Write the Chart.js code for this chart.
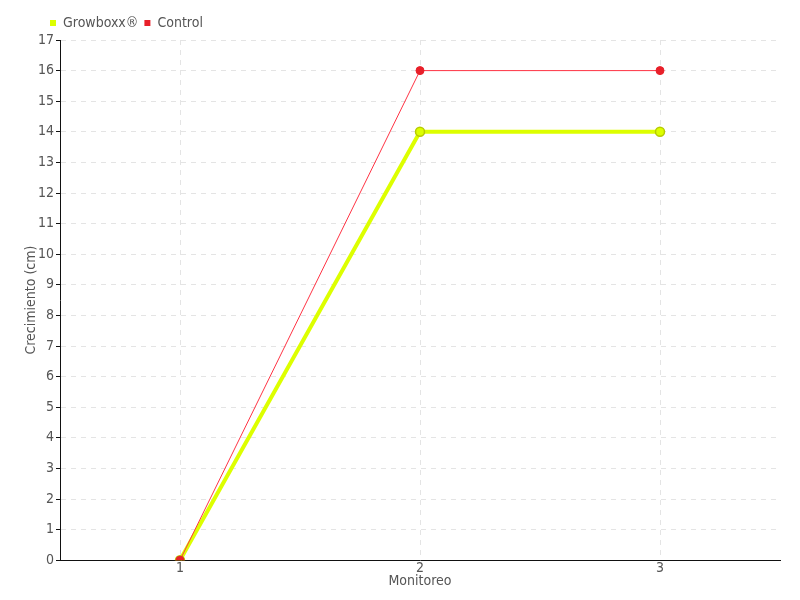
<!DOCTYPE html>
<html>
<head>
<meta charset="utf-8">
<script src="https://cdn.jsdelivr.net/npm/chart.js@4"></script>
<style>
  html, body { margin: 0; padding: 0; background: #fff; }
  #wrap { width: 800px; height: 600px; }
</style>
</head>
<body>
<div id="wrap"><canvas id="grafico" width="800" height="600"></canvas></div>
<script>
// datos del grafico
const monitoreos = ['1', '2', '3'];
const growboxx = [0, 14, 14];
const control = [0, 16, 16];
const nombres = ['Growboxx®', 'Control'];

Chart.defaults.font.family = "'DejaVu Sans', sans-serif";
Chart.defaults.font.weight = 'condensed';
Chart.defaults.font.size = 14;
Chart.defaults.color = '#555';

// la leyenda empieza a la altura del eje Y
const moverLeyenda = {
    id: 'moverLeyenda',
    afterLayout(chart) {
        chart.legend.left += 25;
    }
};

const ctx = document.getElementById('grafico').getContext('2d');
new Chart(ctx, {
    type: 'line',
    data: {
        labels: monitoreos,
        datasets: [
            {
                label: nombres[0],
                data: growboxx,
                borderColor: '#ddff00',
                backgroundColor: '#ddff00',
                borderWidth: 4,
                pointRadius: 4.5,
                pointBorderWidth: 1.5,
                pointBorderColor: '#b8cc00',
                pointBackgroundColor: '#ddff00',
                tension: 0
            },
            {
                label: nombres[1],
                data: control,
                borderColor: '#ff3344',
                backgroundColor: '#e8202a',
                borderWidth: 1,
                pointRadius: 4,
                pointBorderWidth: 1,
                pointBorderColor: '#e8202a',
                pointBackgroundColor: '#e8202a',
                tension: 0,
                order: -1
            }
        ]
    },
    options: {
        responsive: false,
        animation: false,
        layout: { padding: { left: 19, right: 20, top: 10, bottom: 0 } },
        plugins: {
            legend: {
                display: true,
                position: 'top',
                align: 'start',
                labels: {
                    boxWidth: 6,
                    boxHeight: 6,
                    padding: 6,
                    sort: (a, b) => a.datasetIndex - b.datasetIndex,
                    generateLabels(chart) {
                        const items = Chart.defaults.plugins.legend.labels.generateLabels(chart);
                        items.forEach(it => { it.lineWidth = 0; });
                        return items;
                    }
                }
            },
            tooltip: { enabled: false }
        },
        scales: {
            x: {
                offset: true,
                title: {
                    display: true,
                    text: 'Monitoreo',
                    font: { lineHeight: 1 },
                    padding: { top: -3, bottom: 12 }
                },
                grid: {
                    offset: false,
                    color: '#e4e4e4',
                    drawTicks: false
                },
                border: { color: '#111', width: 1, dash: [5, 5] },
                ticks: { padding: 0 }
            },
            y: {
                min: 0,
                max: 17,
                title: { display: true, text: 'Crecimiento (cm)', padding: 4 },
                grid: {
                    color: '#e4e4e4',
                    tickColor: '#111',
                    tickLength: 4
                },
                border: { color: '#111', width: 1, dash: [5, 5] },
                ticks: { stepSize: 1, padding: 2 },
                afterFit(scale) {
                    scale.width = 41;
                }
            }
        }
    },
    plugins: [moverLeyenda]
});
</script>
</body>
</html>
